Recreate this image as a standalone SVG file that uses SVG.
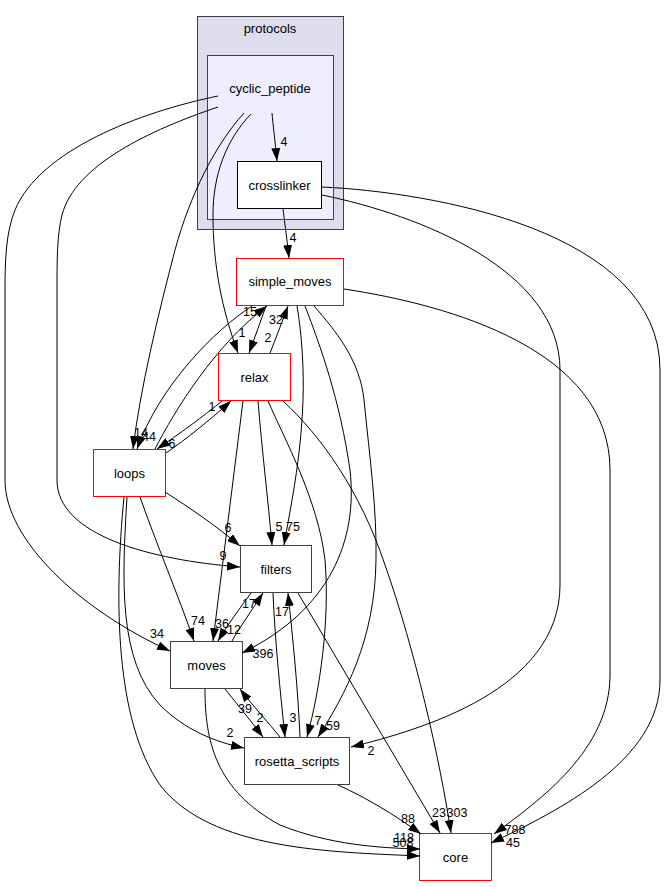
<svg xmlns="http://www.w3.org/2000/svg" width="664" height="887" viewBox="0 0 664 887">
<defs>
<marker id="ah" markerUnits="userSpaceOnUse" markerWidth="13" markerHeight="9" refX="13" refY="4.5" orient="auto">
<path d="M0,0 L13,4.5 L0,9 Z" fill="#000"/>
</marker>
<style>
.e path{fill:none;stroke:#000;stroke-width:1;marker-end:url(#ah)}
.e text{font-family:"Liberation Sans",Arial,sans-serif;font-size:12.5px;text-anchor:middle;fill:#000}
.n rect{fill:#fff;stroke:#404040;stroke-width:1}
.n.red rect{stroke:#ff0000}
.t{font-family:"Liberation Sans",Arial,sans-serif;font-size:13px;text-anchor:middle;fill:#000}
</style>
</defs>
<rect width="664" height="887" fill="#fff"/>
<g id="cluster_protocols">
<rect x="197.5" y="16.5" width="146" height="213" fill="#ddddee" stroke="#404040"/>
<text class="t" x="270" y="33">protocols</text>
</g>
<g id="cluster_cyclic_peptide">
<rect x="207.5" y="55.5" width="126" height="164" fill="#eeeeff" stroke="#404040"/>
<text class="t" x="270" y="93">cyclic_peptide</text>
</g>
<g id="node_crosslinker" class="n">
<rect x="237.5" y="161.5" width="84" height="47" style="stroke:#000"/>
<text class="t" x="279.5" y="189.5">crosslinker</text>
</g>
<g id="node_simple_moves" class="n red">
<rect x="236.5" y="258.5" width="107" height="47"/>
<text class="t" x="290" y="286">simple_moves</text>
</g>
<g id="node_relax" class="n red">
<rect x="218.5" y="353.5" width="72" height="47"/>
<text class="t" x="254.5" y="381.5">relax</text>
</g>
<g id="node_loops" class="n red">
<rect x="93.5" y="449.5" width="72" height="47"/>
<text class="t" x="129.5" y="477.5">loops</text>
</g>
<g id="node_filters" class="n">
<rect x="240.5" y="545.5" width="71" height="47"/>
<text class="t" x="276" y="573.5">filters</text>
</g>
<g id="node_moves" class="n">
<rect x="170.5" y="641.5" width="72" height="47"/>
<text class="t" x="206.5" y="669.5">moves</text>
</g>
<g id="node_rosetta_scripts" class="n">
<rect x="244.5" y="737.5" width="105" height="47"/>
<text class="t" x="297" y="765.5">rosetta_scripts</text>
</g>
<g id="node_core" class="n red">
<rect x="419.5" y="833.5" width="72" height="47"/>
<text class="t" x="455.5" y="861.5">core</text>
</g>
<g id="edges" class="e">
<path d="M272,113 C273,125 275,140 277,161"/>
<path d="M283,209 C285,225 287,240 289,258"/>
<path d="M218,96 C140,112 40,150 15,210 C6,232 5,260 5,290 L5,480 C5,540 80,610 170,651"/>
<path d="M218,107 C150,130 75,165 62,215 C57,235 57,260 57,290 L57,480 C57,535 150,560 240,567"/>
<path d="M244,113 C215,145 190,195 175,250 C158,315 140,390 133,449"/>
<path d="M251,114 C226,140 213,175 213,215 C213,265 222,310 238,353"/>
<path d="M266,306 C261,320 255,337 249,353"/>
<path d="M270,353 C276,338 282,322 288,306"/>
<path d="M155,449 C175,410 215,345 267,306"/>
<path d="M252,306 C215,330 160,385 137,449"/>
<path d="M222,401 C205,415 178,435 157,449"/>
<path d="M166,453 C185,440 210,420 231,401"/>
<path d="M297,306 C302,335 304,370 303,400 C301,460 290,510 284,545"/>
<path d="M258,401 C262,450 268,500 272,545"/>
<path d="M165,492 C190,508 215,525 240,546"/>
<path d="M305,306 C320,345 340,400 350,470 C358,540 330,610 242,653"/>
<path d="M243,401 L213,641"/>
<path d="M251,593 C240,608 228,624 218,641"/>
<path d="M232,641 C240,627 252,610 263,593"/>
<path d="M140,497 C155,540 180,600 194,641"/>
<path d="M273,593 C275,640 280,690 285,737"/>
<path d="M300,737 C298,690 293,640 288,593"/>
<path d="M268,401 C285,440 318,500 325,560 C330,620 320,690 307,737"/>
<path d="M314,306 C335,330 360,360 364,400 C370,460 377,510 376,560 C375,640 345,695 318,737"/>
<path d="M225,689 C238,705 250,720 263,737"/>
<path d="M280,737 C268,722 252,705 240,689"/>
<path d="M127,497 C122,580 118,660 160,705 C185,730 215,742 244,748"/>
<path d="M124,497 C114,600 115,720 160,785 C210,850 330,852 420,856"/>
<path d="M205,689 C205,740 215,790 280,825 C330,845 380,848 420,849"/>
<path d="M338,785 C365,797 395,815 421,834"/>
<path d="M298,593 L440,833"/>
<path d="M283,401 C320,435 360,490 385,565 C415,650 440,760 451,833"/>
<path d="M344,289 C450,305 610,350 610,470 L610,675 C610,750 540,800 494,834"/>
<path d="M322,187 C430,192 660,230 660,370 L660,680 C660,760 560,810 491,843"/>
<path d="M322,195 C420,215 560,270 560,370 L560,585 C560,690 420,730 351,747"/>
<text x="284" y="145.5">4</text>
<text x="293" y="241.5">4</text>
<text x="250" y="315.5">15</text>
<text x="276" y="323.5">32</text>
<text x="242" y="336.5">1</text>
<text x="268" y="341.5">2</text>
<text x="212" y="410.5">1</text>
<text x="141" y="436.5">14</text>
<text x="149" y="440.5">44</text>
<text x="172" y="447.5">6</text>
<text x="228" y="531.5">6</text>
<text x="279" y="530.5">5</text>
<text x="293" y="530.5">75</text>
<text x="223" y="559.5">9</text>
<text x="249" y="607.5">17</text>
<text x="282" y="615.5">17</text>
<text x="198" y="624.5">74</text>
<text x="222" y="627.5">36</text>
<text x="234" y="633.5">12</text>
<text x="157" y="637.5">34</text>
<text x="263" y="657.5">396</text>
<text x="245" y="712.5">39</text>
<text x="260" y="721.5">2</text>
<text x="293" y="721.5">3</text>
<text x="318" y="724.5">7</text>
<text x="333" y="729.5">59</text>
<text x="230" y="736.5">2</text>
<text x="371" y="754.5">2</text>
<text x="408" y="822.5">88</text>
<text x="439" y="816.5">23</text>
<text x="457" y="816.5">303</text>
<text x="515" y="833.5">788</text>
<text x="513" y="846.5">45</text>
<text x="404" y="841.5">118</text>
<text x="403" y="846.5">508</text>
</g>
</svg>
